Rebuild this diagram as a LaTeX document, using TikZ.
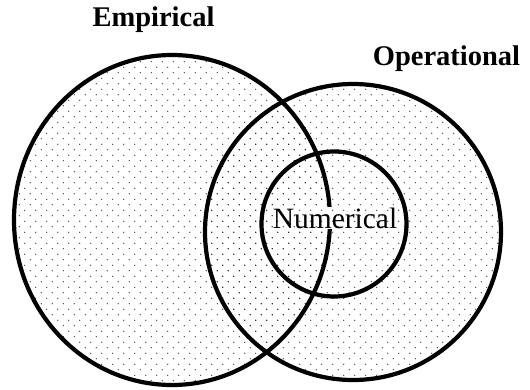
\documentclass[tikz,border=0pt]{standalone}
\usepackage{fontspec}
\setmainfont{Liberation Serif}
\usetikzlibrary{shapes.geometric, patterns}

\pgfdeclarepatternformonly{sparsedots}{\pgfqpoint{-1pt}{-1pt}}{\pgfqpoint{12pt}{12pt}}{\pgfqpoint{11pt}{11pt}}{%
  \pgfpathcircle{\pgfqpoint{2.75pt}{2.75pt}}{0.7pt}%
  \pgfpathcircle{\pgfqpoint{8.25pt}{8.25pt}}{0.7pt}%
  \pgfusepath{fill}}

\begin{document}
\begin{tikzpicture}[x=1pt, y=-1pt,
    dotted area/.style={pattern=sparsedots, pattern color=black!85},
    set line/.style={draw, line width=4.2pt, inner sep=0pt, outer sep=0pt},
    set name/.style={font=\fontsize{28.5}{32}\selectfont\bfseries, anchor=base, inner sep=0pt}]
    \useasboundingbox (0,0) rectangle (530,389);

    % dotted sets
    \node [ellipse, dotted area, minimum width=316pt, minimum height=330pt, inner sep=0pt] (empfill) at (172,220) {};
    \node [circle, dotted area, minimum size=296pt, inner sep=0pt] (opfill) at (353,232) {};

    % outlines
    \node [ellipse, set line, minimum width=316pt, minimum height=330pt] (empirical) at (172,220) {};
    \node [circle, set line, minimum size=296pt] (operational) at (353,232) {};
    \node [circle, set line, minimum size=145pt] (numerical) at (334,224) {};

    % labels
    \node [set name] (emplabel) at (153.5,26) {Empirical};
    \node [set name] (oplabel) at (446.5,65.5) {Operational};
    \node [font=\fontsize{29.5}{32}\selectfont, anchor=base, inner sep=1pt,
           fill=white, postaction={dotted area}] (numlabel) at (335,228) {Numerical};
\end{tikzpicture}
\end{document}
